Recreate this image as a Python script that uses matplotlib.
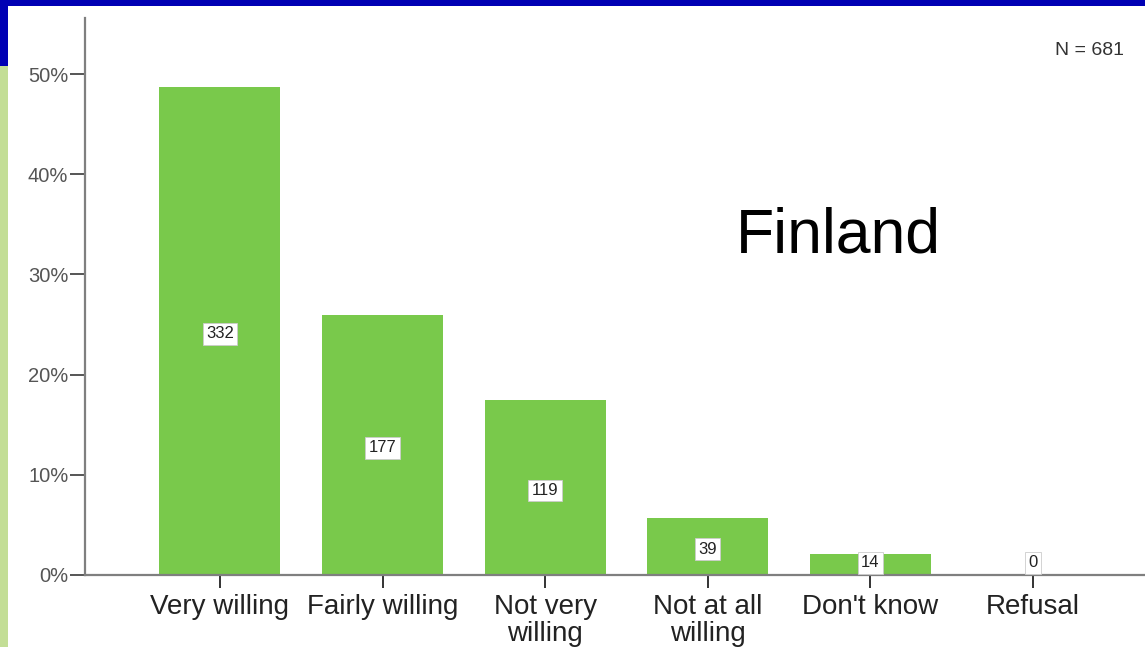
import numpy as np
import matplotlib.pyplot as plt
from matplotlib.patches import Rectangle

plt.rcParams['font.family'] = ['Liberation Sans', 'DejaVu Sans']

# Willingness answers, Finland
categories = ["Very willing", "Fairly willing", "Not very\nwilling",
              "Not at all\nwilling", "Don't know", "Refusal"]
counts = [332, 177, 119, 39, 14, 0]
n_total = 681
y_ticks = [0, 10, 20, 30, 40, 50]

pct = np.array(counts) / n_total * 100
x = np.arange(len(categories))

fig = plt.figure(figsize=(11.45, 6.47), dpi=100)
fig.patch.set_facecolor('white')

# slide decoration: blue band on top, green strip on the left
fig.patches.append(Rectangle((0, 1 - 6/647), 1, 6/647, transform=fig.transFigure,
                             facecolor='#0000b4', edgecolor='none', zorder=0))
fig.patches.append(Rectangle((0, 1 - 66/647), 8/1145, 66/647, transform=fig.transFigure,
                             facecolor='#0000b4', edgecolor='none', zorder=0))
fig.patches.append(Rectangle((0, 0), 8/1145, 1 - 66/647, transform=fig.transFigure,
                             facecolor='#c3de96', edgecolor='none', zorder=0))

ax = fig.add_axes([85/1145, 1 - 575/647, 1 - 85/1145, (575 - 18)/647])
ax.set_facecolor('none')

ax.bar(x, pct, width=0.745, color='#79c94b', edgecolor='none', zorder=2)

# count labels in the middle of each bar
for xi, p, c in zip(x, pct, counts):
    ax.text(xi, max(p / 2, 1.5) - 0.3, str(c), ha='center', va='center', fontsize=12,
            color='#222222', zorder=4,
            bbox=dict(boxstyle='square,pad=0.2', facecolor='white',
                      edgecolor='#cccccc', linewidth=0.6))

ax.set_xlim(-0.83, 5.69)
ax.set_ylim(0, 55.6)

ax.set_yticks(y_ticks)
ax.set_yticklabels([f"{t}%" for t in y_ticks])
ax.set_xticks(x)
ax.set_xticklabels(categories, linespacing=1.05)

ax.tick_params(axis='y', direction='out', length=11, width=1.4, color='#555555',
               labelsize=14.5, labelcolor='#555555', pad=1)
ax.tick_params(axis='x', direction='out', length=9, width=1.4, color='#333333',
               labelsize=20, labelcolor='#222222', pad=5)

for side in ['top', 'right']:
    ax.spines[side].set_visible(False)
for side in ['left', 'bottom']:
    ax.spines[side].set_color('#7f7f7f')
    ax.spines[side].set_linewidth(1.6)

ax.text(0.921, 0.922, f"N = {n_total}", transform=fig.transFigure, ha='left',
        va='center', fontsize=14, color='#333333')
ax.text(0.732, 0.636, "Finland", transform=fig.transFigure, ha='center',
        va='center', fontsize=45, color='black')

fig.savefig('out.png', dpi=100, facecolor='white')
